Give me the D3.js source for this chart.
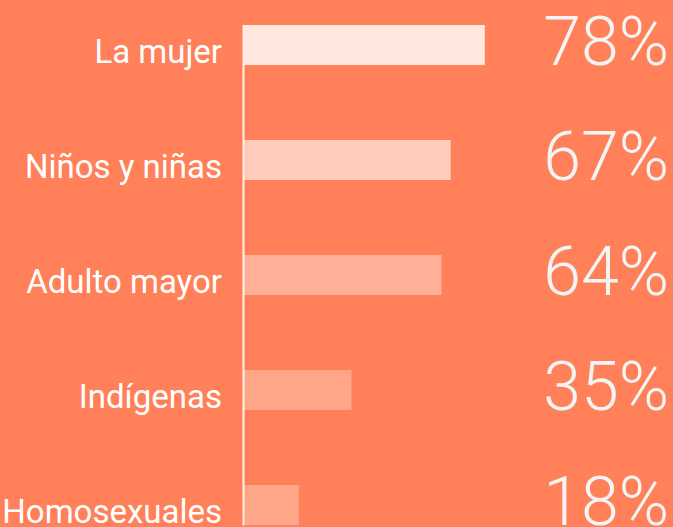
<!DOCTYPE html>
<html>
<head>
<meta charset="utf-8">
<script src="https://cdn.jsdelivr.net/npm/d3@7"></script>
<style>
  html, body { margin: 0; padding: 0; background: #FF8059; }
  svg { display: block; }
</style>
</head>
<body>
<svg id="bar_svg" width="673" height="527"></svg>
<script>
// data
const groups = ['La mujer', 'Niños y niñas', 'Adulto mayor', 'Indígenas', 'Homosexuales']
const percents = [78, 67, 64, 35, 18]
const barColors = ['#FFE7DF', '#FFCBBA', '#FFB096', '#FFA588', '#FFA588']

const svg = d3.select('#bar_svg')
const axisX = 243

var xScale = d3.scaleLinear()
  .domain([0, 100])
  .range([0, 310])

var yScale = d3.scaleBand()
  .domain(groups)
  .range([25, 525])
  .paddingInner(0.652)
  .paddingOuter(0)

const rows = groups.map((g, i) => ({group: g, value: percents[i], color: barColors[i]}))

// bars
svg.append('g')
  .selectAll('rect')
  .data(rows)
  .join('rect')
    .attr('x', axisX)
    .attr('y', d => yScale(d.group))
    .attr('width', d => xScale(d.value))
    .attr('height', yScale.bandwidth())
    .attr('fill', d => d.color)

// left axis: just the line and category labels
const yAxis = d3.axisLeft(yScale).tickSize(0).tickSizeOuter(0).tickPadding(21)
const axisG = svg.append('g')
  .attr('transform', `translate(${axisX},0)`)
  .call(yAxis)
axisG.select('.domain')
  .attr('stroke', '#FFF1EA')
  .attr('stroke-width', 2)
axisG.selectAll('text')
  .attr('fill', '#FFFFFF')
  .attr('font-family', 'Roboto, sans-serif')
  .attr('font-size', 33)
  .attr('dy', '0.55em')

// big percentages on the right
svg.append('g')
  .selectAll('text')
  .data(rows)
  .join('text')
    .attr('x', 669)
    .attr('y', d => yScale(d.group) + yScale.bandwidth())
    .attr('text-anchor', 'end')
    .attr('fill', '#F4F4F4')
    .attr('font-family', 'Roboto, sans-serif')
    .attr('font-weight', 300)
    .attr('font-size', 68)
    .text(d => d.value + '%')
</script>
</body>
</html>
